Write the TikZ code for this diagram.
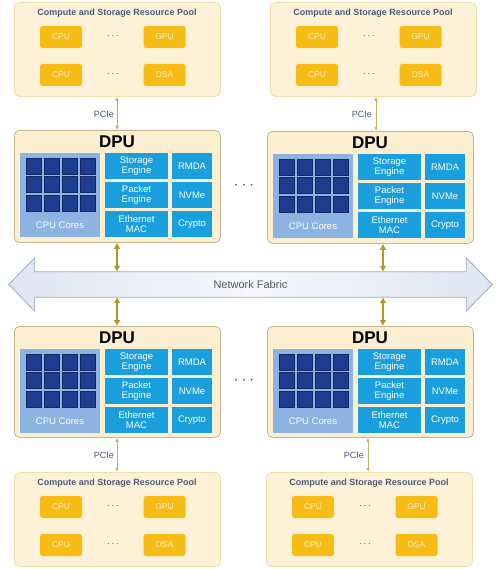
\documentclass[tikz,border=0pt]{standalone}
\usepackage{fontspec}
\setmainfont{Liberation Sans}
\usetikzlibrary{arrows.meta,calc}
\definecolor{poolfill}{HTML}{FDF2D8}
\definecolor{poolline}{HTML}{F3DDA8}
\definecolor{orangebox}{HTML}{F8BC16}
\definecolor{orangetext}{HTML}{FFF1C2}
\definecolor{dpufill}{HTML}{FCEFD1}
\definecolor{dpuline}{HTML}{C9B58C}
\definecolor{bluebox}{HTML}{1A9FDE}
\definecolor{panelblue}{HTML}{8DB3E2}
\definecolor{celldark}{HTML}{132562}
\definecolor{cellmid}{HTML}{1F3D8E}
\definecolor{titlegray}{HTML}{4E5A78}
\definecolor{arrowgold}{HTML}{B89528}
\definecolor{pciegold}{HTML}{C8B05A}
\definecolor{fabline}{HTML}{A0A9C8}
\definecolor{fabfill}{HTML}{E0E5F3}
\definecolor{fabmid}{HTML}{F5F7FC}
\definecolor{labelblue}{HTML}{4A5A80}
\definecolor{dotgray}{HTML}{555555}
\tikzset{
  pool/.style={draw=poolline, fill=poolfill, rounded corners=5, line width=0.8, inner sep=0},
  pooltitle/.style={text=titlegray, font=\fontsize{9}{10}\selectfont\bfseries, inner sep=0},
  res/.style={fill=orangebox, rounded corners=2.5, text=orangetext, font=\fontsize{8.5}{10}\selectfont, minimum width=42, minimum height=22, inner sep=0},
  dots/.style={text=dotgray, font=\fontsize{10}{10}\selectfont, inner sep=0},
  bigdots/.style={text=dotgray, font=\fontsize{17}{17}\selectfont, inner sep=0},
  dpu/.style={draw=dpuline, fill=dpufill, rounded corners=5, line width=0.8, inner sep=0},
  dputitle/.style={text=black, font=\fontsize{17}{17}\selectfont\bfseries, inner sep=0},
  panel/.style={fill=panelblue, inner sep=0},
  cell/.style={fill=cellmid, draw=celldark, line width=1, minimum width=15.5, minimum height=16, inner sep=0},
  coretext/.style={text=white, font=\fontsize{9.5}{10}\selectfont, inner sep=0},
  bluebx/.style={fill=bluebox, text=white, font=\fontsize{9.5}{10}\selectfont, align=center, minimum height=26, inner sep=0},
  pcielabel/.style={text=labelblue, font=\fontsize{9}{10}\selectfont, inner sep=0, anchor=east},
  pciearrow/.style={draw=pciegold, line width=0.8, {Latex[length=4,width=3.5]}-{Latex[length=4,width=3.5]}},
  fabarrow/.style={draw=arrowgold, line width=1.5, {Latex[length=6,width=7]}-{Latex[length=6,width=7]}},
  fabshape/.style={draw=fabline, line width=0.8, left color=fabfill, right color=fabfill, middle color=fabmid},
  fabtext/.style={text=black!65, font=\fontsize{11}{12}\selectfont, inner sep=0}
}
\newcommand\respool[3]{%
  \node[pool, minimum width=206, minimum height=94, anchor=north west] (#1) at (#2,#3) {};
  \node[pooltitle] (#1t) at (#2+103,#3+11) {Compute and Storage Resource Pool};
  \node[res] (#1a) at (#2+47,#3+35) {CPU};
  \node[res] (#1b) at (#2+150.5,#3+35) {GPU};
  \node[res] (#1c) at (#2+47,#3+73) {CPU};
  \node[res] (#1e) at (#2+150.5,#3+73) {DSA};
  \node[dots] (#1d) at (#2+99,#3+34) {$\cdots$};
  \node[dots] (#1f) at (#2+99,#3+72) {$\cdots$};
}
\newcommand\dpubox[4]{%
  \node[dpu, minimum width=206, minimum height=#4, anchor=north west] (#1) at (#2,#3) {};
  \node[dputitle] (#1t) at (#2+103,#3+12) {DPU};
  \node[panel, minimum width=80, minimum height=84] (#1p) at (#2+46,#3+65) {};
  \foreach \ci in {0,...,3}{\foreach \ri in {0,1,2}{
    \node[cell] (#1c\ci\ri) at (#2+20+18*\ci, #3+36.3+18.67*\ri) {};}}
  \node[coretext] (#1l) at (#2+46,#3+95) {CPU Cores};
  \node[bluebx, minimum width=63] (#1s) at (#2+122.5,#3+36) {Storage\\Engine};
  \node[bluebx, minimum width=63] (#1k) at (#2+122.5,#3+65) {Packet\\Engine};
  \node[bluebx, minimum width=63] (#1m) at (#2+122.5,#3+94) {Ethernet\\MAC};
  \node[bluebx, minimum width=40] (#1r) at (#2+178,#3+36) {RMDA};
  \node[bluebx, minimum width=40] (#1n) at (#2+178,#3+65) {NVMe};
  \node[bluebx, minimum width=40] (#1y) at (#2+178,#3+94) {Crypto};
}
\begin{document}
\begin{tikzpicture}[x=1pt,y=-1pt]
\useasboundingbox (0,0) rectangle (500,569);
\fill[white] (0,0) rectangle (500,569);
% resource pools
\respool{ptl}{14}{2}
\respool{ptr}{270}{2}
\respool{pbl}{14}{472}
\respool{pbr}{266}{472}
% DPUs
\dpubox{dtl}{14}{130}{112}
\dpubox{dtr}{267}{131}{112}
\dpubox{dbl}{14}{326}{111}
\dpubox{dbr}{267}{326}{111}
\node[bigdots] (dotst) at (244,186) {$\cdots$};
\node[bigdots] (dotsb) at (244,381) {$\cdots$};
% network fabric
\node[minimum width=431, minimum height=25, inner sep=0] (fabric) at (250.5,284.5) {};
\path[fabshape] (fabric.north west) -- (fabric.north east) -- ($(fabric.north east)+(0,-14)$)
  -- ($(fabric.east)+(26,0)$) -- ($(fabric.south east)+(0,14)$) -- (fabric.south east)
  -- (fabric.south west) -- ($(fabric.south west)+(0,14)$) -- ($(fabric.west)+(-26,0)$)
  -- ($(fabric.north west)+(0,-14)$) -- cycle;
\node[fabtext] (fabtxt) at (fabric.center) {Network Fabric};
% PCIe links
\draw[pciearrow] (ptl.south -| 117,0) -- (dtl.north -| 117,0);
\draw[pciearrow] (ptr.south -| 376,0) -- (dtr.north -| 376,0);
\draw[pciearrow] (dbl.south -| 117,0) -- (pbl.north -| 117,0);
\draw[pciearrow] (dbr.south -| 368,0) -- (pbr.north -| 368,0);
\node[pcielabel] (l1) at (114,114) {PCIe};
\node[pcielabel] (l2) at (372,114) {PCIe};
\node[pcielabel] (l3) at (114,455) {PCIe};
\node[pcielabel] (l4) at (364,455) {PCIe};
% fabric links
\draw[fabarrow] (dtl.south -| 117,0) -- (fabric.north -| 117,0);
\draw[fabarrow] (dtr.south -| 383,0) -- (fabric.north -| 383,0);
\draw[fabarrow] (fabric.south -| 117,0) -- (dbl.north -| 117,0);
\draw[fabarrow] (fabric.south -| 383,0) -- (dbr.north -| 383,0);
\end{tikzpicture}
\end{document}
